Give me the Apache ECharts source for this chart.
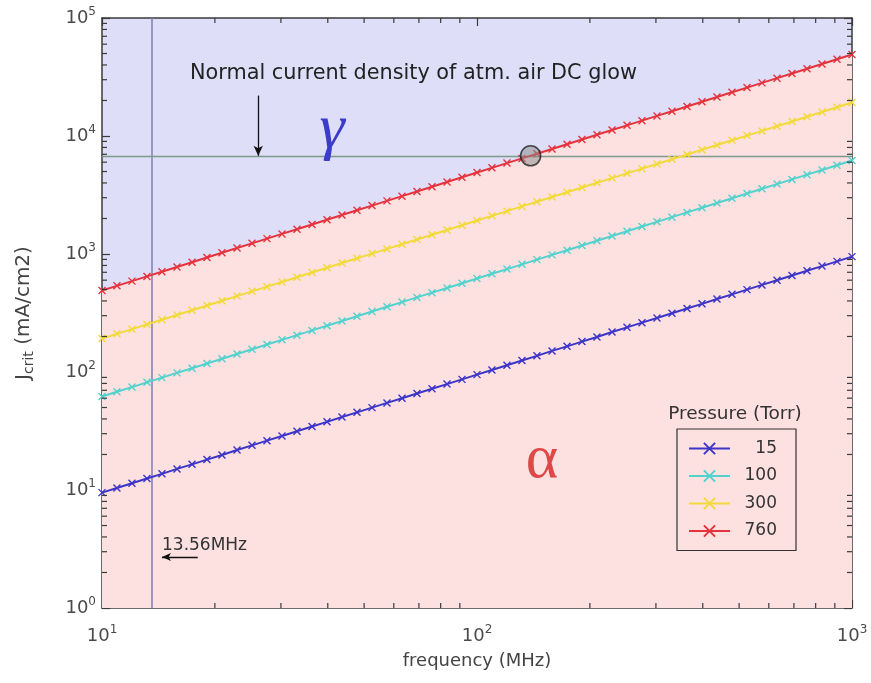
<!DOCTYPE html>
<html>
<head>
<meta charset="utf-8">
<script src="https://cdn.jsdelivr.net/npm/echarts@6/dist/echarts.min.js"></script>
<style>
  html, body { margin: 0; padding: 0; background: #ffffff; }
  #chart { width: 871px; height: 683px; }
</style>
</head>
<body>
<div id="chart"></div>
<script>
// Driving frequency (MHz), shared by all pressure curves
const frequency = [10, 10.96, 12.02, 13.18, 14.45, 15.85, 17.38, 19.05, 20.89, 22.91, 25.12, 27.54, 30.20,
  33.11, 36.31, 39.81, 43.65, 47.86, 52.48, 57.54, 63.10, 69.18, 75.86, 83.18, 91.20, 100,
  109.6, 120.2, 131.8, 144.5, 158.5, 173.8, 190.5, 208.9, 229.1, 251.2, 275.4, 302.0, 331.1,
  363.1, 398.1, 436.5, 478.6, 524.8, 575.4, 631.0, 691.8, 758.6, 831.8, 912.0, 1000];

// Critical current density J_crit (mA/cm2) for each gas pressure (Torr)
const pressureLabels = ['15', '100', '300', '760'];
const jcrit15 = [9.5, 10.4, 11.4, 12.5, 13.7, 15.1, 16.5, 18.1, 19.8, 21.8, 23.9, 26.2, 28.7, 31.5, 34.5,
  37.8, 41.5, 45.5, 49.9, 54.7, 59.9, 65.7, 72.1, 79.0, 86.6, 95, 104, 114, 125, 137, 151, 165, 181, 198,
  218, 239, 262, 287, 315, 345, 378, 415, 455, 499, 547, 599, 657, 721, 790, 866, 950];
const jcrit100 = [62, 68.0, 74.5, 81.7, 89.6, 98.3, 107.7, 118.1, 129.5, 142.0, 155.7, 170.8, 187.2, 205.3,
  225.1, 246.8, 270.6, 296.8, 325.4, 356.8, 391.2, 428.9, 470.3, 515.7, 565.4, 620, 680, 745, 817, 896,
  983, 1077, 1181, 1295, 1420, 1557, 1708, 1872, 2053, 2251, 2468, 2706, 2968, 3254, 3568, 3912, 4289,
  4703, 5157, 5654, 6200];
const jcrit300 = [192, 210.5, 230.8, 253.1, 277.5, 304.3, 333.7, 365.9, 401.1, 439.9, 482.3, 528.8, 579.8,
  635.8, 697.1, 764.4, 838.1, 919.0, 1008, 1105, 1211, 1328, 1457, 1597, 1751, 1920, 2105, 2308, 2531,
  2775, 3043, 3337, 3659, 4011, 4399, 4823, 5288, 5798, 6358, 6971, 7644, 8381, 9190, 10076, 11048,
  12114, 13283, 14565, 15970, 17511, 19200];
const jcrit760 = [490, 537, 589, 646, 708, 777, 852, 934, 1024, 1123, 1231, 1350, 1480, 1623, 1779, 1951,
  2139, 2345, 2572, 2820, 3092, 3390, 3717, 4076, 4469, 4900, 5373, 5891, 6460, 7082, 7766, 8515, 9337,
  10238, 11225, 12308, 13496, 14798, 16225, 17791, 19507, 21389, 23453, 25716, 28197, 30917, 33900,
  37170, 40756, 44688, 49000];

// Reference levels and annotations (data units)
const rfFrequency = 13.56;          // MHz
const glowCurrentDensity = 6800;    // mA/cm2, atmospheric-air DC glow
const crossingPoint = [139, 6800];  // 760 Torr curve meets the glow level
const glowArrowFrom = [26.1, 22000];
const glowArrowTo = [26.1, 6800];
const rfArrowFrom = [18.0, 2.7];
const rfArrowTo = [14.45, 2.7];

// Axis ranges / decade tick labels
const xRange = [10, 1000];
const yRange = [1, 100000];
const xDecadeLabels = { 10: '1', 100: '2', 1000: '3' };
const yDecadeLabels = { 1: '0', 10: '1', 100: '2', 1000: '3', 10000: '4', 100000: '5' };

const FONT = "'DejaVu Sans', 'Liberation Sans', Arial, sans-serif";
const SERIF = "'Liberation Serif', 'DejaVu Serif', serif";
const AXIS_COLOR = '#3a3a3a';
const LABEL_COLOR = '#4a4a4a';
const COLORS = ['#3d35c8', '#52d2cd', '#f2da3a', '#e5333d'];
const GAMMA_BG = '#dedef9';
const ALPHA_BG = '#fde1e1';
const MAJOR_TICK = 8;
const MINOR_TICK = 5;

// Minor tick values at 2..9 within each decade
function minorTicks(range) {
  const out = [];
  for (let d = range[0]; d < range[1]; d *= 10) {
    for (let m = 2; m <= 9; m++) out.push(m * d);
  }
  return out;
}
const xMinor = minorTicks(xRange);
const yMinor = minorTicks(yRange);

const X_MARK = 'path://M0,0L10,10M10,0L0,10';

const pairs = (ys) => frequency.map((f, i) => [f, ys[i]]);
const seriesValues = [jcrit15, jcrit100, jcrit300, jcrit760];

const richPow = {
  b: { fontFamily: FONT, fontSize: 18, color: LABEL_COLOR },
  s: { fontFamily: FONT, fontSize: 12, color: LABEL_COLOR, padding: [0, 0, 12, 0] }
};

function baseAxis(extra) {
  return Object.assign({
    type: 'log',
    logBase: 10,
    axisLine: { show: true, onZero: false, lineStyle: { color: AXIS_COLOR, width: 1.5 } },
    axisTick: { show: true, inside: true, length: MAJOR_TICK, lineStyle: { color: AXIS_COLOR, width: 1.2 } },
    splitLine: { show: false },
    minorTick: { show: false },
    minorSplitLine: { show: false }
  }, extra);
}

function label(text, x, y, font, fill, align) {
  return {
    type: 'text', x: x, y: y, z: 100, silent: true,
    style: { text: text, font: font, fill: fill,
      textAlign: align, textVerticalAlign: 'middle', align: align, verticalAlign: 'middle' }
  };
}

const chart = echarts.init(document.getElementById('chart'), null, { renderer: 'canvas' });

const lineSeries = pressureLabels.map((name, k) => ({
  name: name,
  type: 'line',
  data: pairs(seriesValues[k]),
  symbol: X_MARK,
  symbolSize: 7,
  showSymbol: true,
  lineStyle: { color: COLORS[k], width: 2 },
  itemStyle: { color: COLORS[k], borderColor: COLORS[k], borderWidth: 1.4 },
  z: 3,
  silent: true
}));

const option = {
  animation: false,
  backgroundColor: '#ffffff',
  grid: {
    left: 102, right: 19, top: 18, bottom: 75,
    show: true, backgroundColor: GAMMA_BG, borderWidth: 0
  },
  xAxis: [
    baseAxis({
      position: 'bottom', min: xRange[0], max: xRange[1],
      name: 'frequency (MHz)', nameLocation: 'middle', nameGap: 44,
      nameTextStyle: { fontFamily: FONT, fontSize: 18, color: '#444' },
      axisLabel: {
        margin: 16,
        formatter: (v) => '{b|10}{s|' + xDecadeLabels[Math.round(v)] + '}',
        rich: richPow
      }
    }),
    baseAxis({ position: 'top', min: xRange[0], max: xRange[1], axisLabel: { show: false } })
  ],
  yAxis: [
    baseAxis({
      position: 'left', min: yRange[0], max: yRange[1],
      name: '{j|J}{c|crit}{j| (mA/cm2)}', nameLocation: 'middle', nameGap: 66, nameRotate: 90,
      nameTextStyle: {
        rich: {
          j: { fontFamily: FONT, fontSize: 20, color: '#444' },
          c: { fontFamily: FONT, fontSize: 14, color: '#444', padding: [10, 0, 0, 0] }
        }
      },
      axisLabel: {
        margin: 6,
        formatter: (v) => '{b|10}{s|' + yDecadeLabels[Math.round(v)] + '}',
        rich: richPow
      }
    }),
    baseAxis({ position: 'right', min: yRange[0], max: yRange[1], axisLabel: { show: false } })
  ],
  legend: {
    data: pressureLabels,
    orient: 'vertical',
    left: 677, top: 429,
    padding: [11, 19, 11, 11],
    itemWidth: 41, itemHeight: 14, itemGap: 10.5,
    borderColor: '#333', borderWidth: 1.2,
    formatter: '{n|{name}}',
    textStyle: {
      fontFamily: FONT, fontSize: 17, color: '#333',
      rich: { n: { fontFamily: FONT, fontSize: 17, color: '#333', width: 42, align: 'right', lineHeight: 17 } }
    }
  },
  graphic: [
    label('Normal current density of atm. air DC glow', 190, 74, '20.8px ' + FONT, '#222', 'left'),
    label('13.56MHz', 162, 546, '17px ' + FONT, '#333', 'left'),
    label('Pressure (Torr)', 735, 414, '18.5px ' + FONT, '#333', 'center'),
    label('γ', 332, 130, 'italic 64px ' + SERIF, '#3b3bcc', 'center'),
    label('α', 542, 461, '62px ' + SERIF, '#e04848', 'center')
  ],
  series: [
    // alpha-mode region: everything below the 760 Torr boundary
    {
      name: 'alpha-region',
      type: 'line',
      data: pairs(jcrit760),
      symbol: 'none',
      lineStyle: { width: 0, opacity: 0 },
      areaStyle: { color: ALPHA_BG, opacity: 1, origin: 'start' },
      z: 1,
      silent: true,
      markLine: {
        silent: true,
        symbol: ['none', 'none'],
        label: { show: false },
        z: 2,
        data: [
          { xAxis: rfFrequency, lineStyle: { color: '#8884b6', width: 1.6, type: 'solid' } },
          { yAxis: glowCurrentDensity, lineStyle: { color: '#7d9a8b', width: 1.3, type: 'solid' } },
          [
            { coord: glowArrowFrom, symbol: 'none', lineStyle: { color: '#111', width: 1.3, type: 'solid' } },
            { coord: glowArrowTo, symbol: 'arrow', symbolSize: [7, 10] }
          ],
          [
            { coord: rfArrowFrom, symbol: 'none', lineStyle: { color: '#111', width: 1.3, type: 'solid' } },
            { coord: rfArrowTo, symbol: 'arrow', symbolSize: [6, 9] }
          ]
        ]
      }
    },
    ...lineSeries,
    {
      name: 'crossing',
      type: 'scatter',
      data: [crossingPoint],
      symbol: 'circle',
      symbolSize: 20,
      itemStyle: { color: 'rgba(140,140,140,0.65)', borderColor: '#222', borderWidth: 1.6 },
      z: 6,
      silent: true
    },
    // minor ticks on bottom and top edges
    {
      name: 'x-minor',
      type: 'custom',
      data: xMinor.map((v) => [v, yRange[0]]),
      silent: true,
      z: 7,
      clip: false,
      renderItem: function (params, api) {
        const cs = params.coordSys;
        const x = api.coord([api.value(0), yRange[0]])[0];
        const top = cs.y, bottom = cs.y + cs.height;
        const st = { stroke: AXIS_COLOR, lineWidth: 1.2 };
        return {
          type: 'group',
          children: [
            { type: 'line', shape: { x1: x, y1: bottom, x2: x, y2: bottom - MINOR_TICK }, style: st },
            { type: 'line', shape: { x1: x, y1: top, x2: x, y2: top + MINOR_TICK }, style: st }
          ]
        };
      }
    },
    // minor ticks on left and right edges
    {
      name: 'y-minor',
      type: 'custom',
      data: yMinor.map((v) => [xRange[0], v]),
      silent: true,
      z: 7,
      clip: false,
      renderItem: function (params, api) {
        const cs = params.coordSys;
        const y = api.coord([xRange[0], api.value(1)])[1];
        const left = cs.x, right = cs.x + cs.width;
        const st = { stroke: AXIS_COLOR, lineWidth: 1.2 };
        return {
          type: 'group',
          children: [
            { type: 'line', shape: { x1: left, y1: y, x2: left + MINOR_TICK, y2: y }, style: st },
            { type: 'line', shape: { x1: right, y1: y, x2: right - MINOR_TICK, y2: y }, style: st }
          ]
        };
      }
    }
  ]
};

chart.setOption(option);
</script>
</body>
</html>
